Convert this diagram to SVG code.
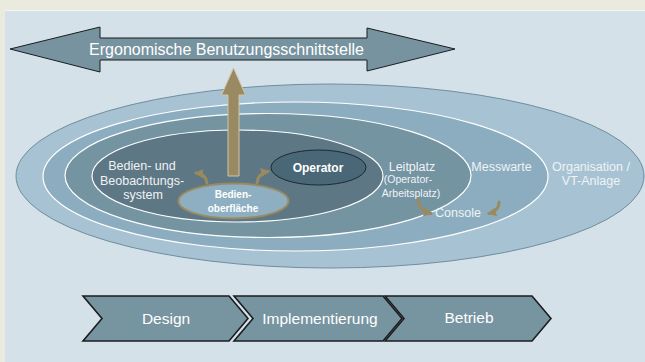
<svg xmlns="http://www.w3.org/2000/svg" width="645" height="362" viewBox="0 0 645 362">
  <defs>
    <style>
      .lbl { font-family: "Liberation Sans", Arial, sans-serif; fill: #eef3f6; text-anchor: middle; }
      .bold { font-weight: bold; fill: #ffffff; }
      .ring { stroke: #ffffff; stroke-width: 1.2; }
      .chev { fill: #7794a1; stroke: #1b1d1f; stroke-width: 1.6; stroke-linejoin: miter; }
      .chevtxt { font-family: "Liberation Sans", Arial, sans-serif; font-size: 15.5px; fill: #ffffff; text-anchor: middle; }
      .gold { fill: none; stroke: #9a8a60; stroke-width: 3; stroke-linecap: round; }
    </style>
    <marker id="goldHead" viewBox="0 0 10 10" refX="8" refY="5" markerWidth="9" markerHeight="9" markerUnits="userSpaceOnUse" orient="auto">
      <path d="M0,0 L10,5 L0,10 Z" fill="#9a8a60"/>
    </marker>
  </defs>

  <!-- page and panel -->
  <rect x="0" y="0" width="645" height="362" fill="#ebeadf"/>
  <rect x="5" y="10" width="640" height="352" fill="#d4e1e8"/>
  <line x1="5" y1="10.5" x2="645" y2="10.5" stroke="#f4f7f8" stroke-width="1"/>

  <!-- nested organisational levels -->
  <g id="organisation">
    <ellipse cx="330" cy="176" rx="314" ry="92" fill="#a7c3d3" stroke="#6f8e9e" stroke-width="1"/>
    <text class="lbl" x="591" y="171" font-size="12.5">Organisation /</text>
    <text class="lbl" x="591" y="185" font-size="12.5">VT-Anlage</text>
  </g>
  <g id="messwarte">
    <ellipse class="ring" cx="295.5" cy="176.5" rx="252.5" ry="74.5" fill="#8badbf"/>
    <text class="lbl" x="501.5" y="171" font-size="12.5">Messwarte</text>
  </g>
  <g id="leitplatz">
    <ellipse class="ring" cx="268" cy="175.5" rx="203" ry="62" fill="#7594a2"/>
    <text class="lbl" x="412" y="171" font-size="12.5">Leitplatz</text>
    <text class="lbl" x="408" y="183" font-size="10.5">(Operator-</text>
    <text class="lbl" x="411" y="197" font-size="10.5">Arbeitsplatz)</text>
  </g>
  <g id="console">
    <text class="lbl" x="458" y="217" font-size="12.5">Console</text>
  </g>
  <g id="bedien-beobachtungssystem">
    <ellipse class="ring" cx="237.5" cy="176" rx="145.5" ry="46" fill="#5e7784"/>
    <text class="lbl" x="142" y="170" font-size="12.5">Bedien- und</text>
    <text class="lbl" x="142" y="184.5" font-size="12.5">Beobachtungs-</text>
    <text class="lbl" x="143" y="199" font-size="12.5">system</text>
  </g>
  <g id="operator">
    <ellipse cx="318.5" cy="167.5" rx="47.5" ry="17.5" fill="#4a6777" stroke="#1c2a32" stroke-width="1"/>
    <text class="lbl bold" x="318" y="171.5" font-size="12">Operator</text>
  </g>
  <g id="bedienoberflaeche">
    <ellipse cx="233.5" cy="201" rx="55" ry="17.5" fill="#8eafc2" stroke="#9a8a60" stroke-width="2"/>
    <text class="lbl bold" x="233" y="198" font-size="10">Bedien-</text>
    <text class="lbl bold" x="233" y="211.5" font-size="10">oberfläche</text>
  </g>

  <!-- interface double arrow -->
  <g id="benutzungsschnittstelle">
    <path d="M10,49 L100,27 L100,38 L367,38 L367,28 L455,49 L367,71 L367,60 L100,60 L100,72 Z" fill="#7793a0" stroke="#1b1d1f" stroke-width="1"/>
    <text x="226.5" y="54.5" font-family="Liberation Sans, Arial, sans-serif" font-size="16" fill="#ffffff" text-anchor="middle">Ergonomische Benutzungsschnittstelle</text>
  </g>

  <!-- phases -->
  <g id="design">
    <path class="chev" d="M83,296 L229,296 L248,318.5 L229,341 L83,341 L102,318.5 Z"/>
    <text class="chevtxt" x="166" y="324">Design</text>
  </g>
  <g id="implementierung">
    <path class="chev" d="M234,296 L383,296 L402,318.5 L383,341 L234,341 L253,318.5 Z"/>
    <text class="chevtxt" x="320" y="324">Implementierung</text>
  </g>
  <g id="betrieb">
    <path class="chev" d="M385,296 L532,296 L551,318.5 L532,341 L385,341 L404,318.5 Z"/>
    <text class="chevtxt" x="469" y="323">Betrieb</text>
  </g>

  <!-- connectors -->
  <g id="connectors">
    <path d="M228,176 L228,95 L221.5,95 L233.5,68 L245.5,95 L239,95 L239,176 Z" fill="#998a63" stroke="#cfc5a4" stroke-width="1"/>
    <path class="gold" d="M207,183 Q206,174 196,173" marker-end="url(#goldHead)"/>
    <path class="gold" d="M257,183 Q258,173 268,171.5" marker-end="url(#goldHead)"/>
    <path class="gold" d="M418,200 Q419,211 431,213.5" marker-end="url(#goldHead)"/>
    <path class="gold" d="M499,202 Q499,211 489,213.5" marker-end="url(#goldHead)"/>
  </g>
</svg>
